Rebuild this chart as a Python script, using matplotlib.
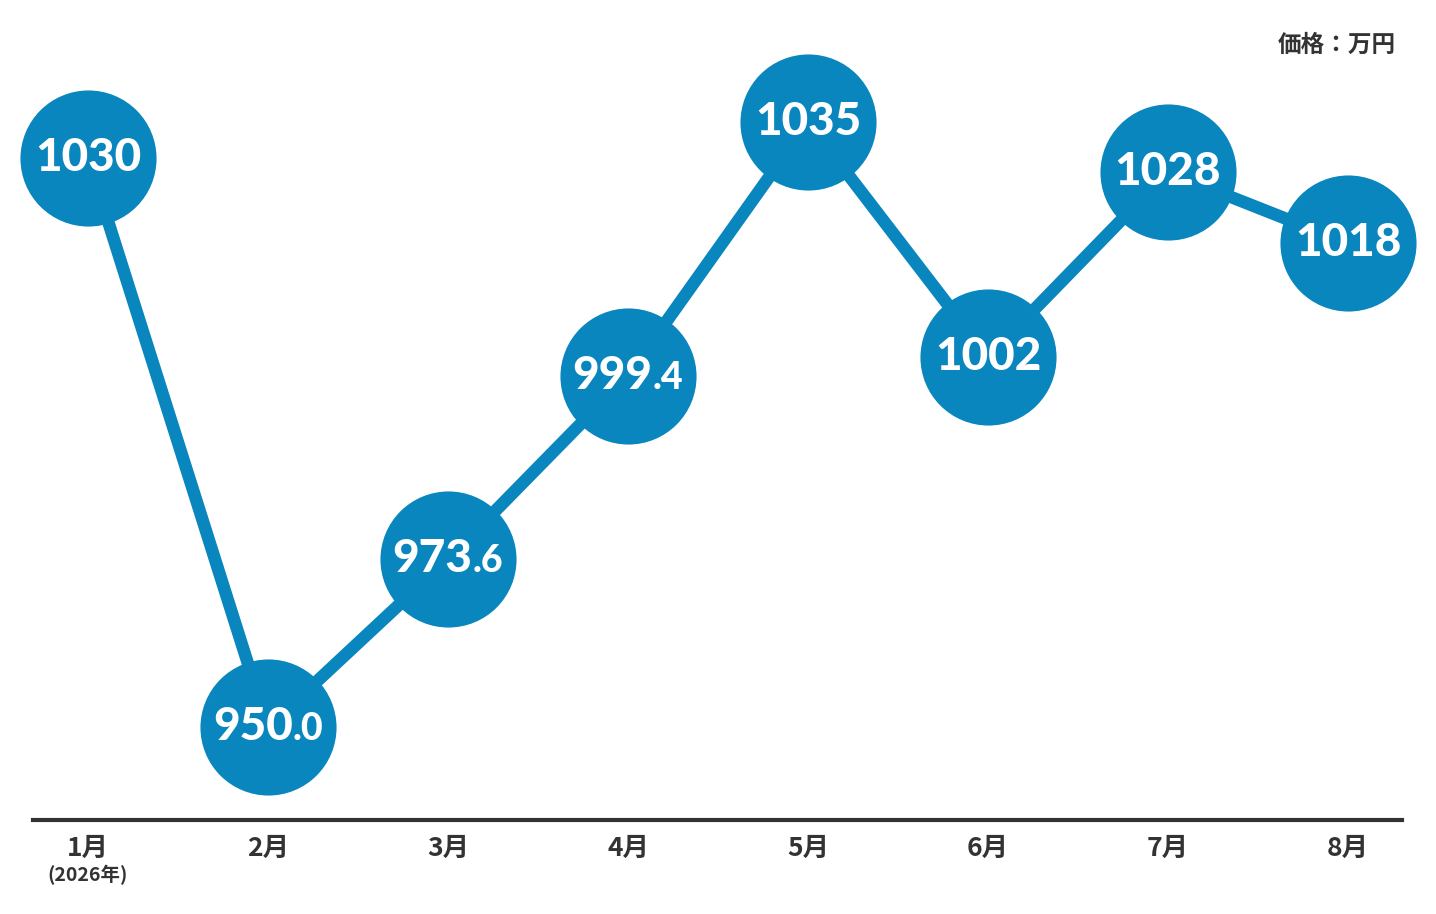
import matplotlib
matplotlib.use("Agg")
import matplotlib.pyplot as plt
import matplotlib.transforms as mtrans

months = ["1月", "2月", "3月", "4月", "5月", "6月", "7月", "8月"]
prices = [1030, 950.0, 973.6, 999.4, 1035, 1002, 1028, 1018]
price_labels = ["1030", "950.0", "973.6", "999.4", "1035", "1002", "1028", "1018"]
unit_label = "価格：万円"
year_note = "(2026年)"

blue = "#0A86BE"
dark = "#333333"
cjk = ["Noto Sans CJK JP", "DejaVu Sans"]

fig = plt.figure(figsize=(14.36, 9.14), dpi=100)
ax = fig.add_axes([33 / 1436, 94 / 914, 1369 / 1436, 820 / 914])
xs = list(range(len(months)))

ax.plot(xs, prices, color=blue, linewidth=9, solid_capstyle="round",
        zorder=2, clip_on=False)
ax.plot(xs, prices, linestyle="none", marker="o", markersize=98,
        markerfacecolor=blue, markeredgewidth=0, zorder=3, clip_on=False)

ax.set_xlim(-55 / 180, 7 + 54 / 180)
ax.set_ylim(950 - 93 / 7.114, 950 + 727 / 7.114)

for s in ["top", "right", "left"]:
    ax.spines[s].set_visible(False)
ax.spines["bottom"].set_color(dark)
ax.spines["bottom"].set_linewidth(3)
ax.set_yticks([])
ax.set_xticks(xs)
ax.set_xticklabels(months, family=cjk, fontsize=19, fontweight="bold",
                   color=dark)
ax.tick_params(axis="x", length=0, pad=11)

ax.text(0, -55 / 820, year_note, transform=ax.get_xaxis_transform(),
        ha="center", va="center", family=cjk, fontsize=14, fontweight="bold",
        color=dark)
fig.text(1396 / 1436, 1 - 45 / 914, unit_label, ha="right", va="center",
         family=cjk, fontsize=17, fontweight="bold", color=dark)

# value labels: decimal part drawn a bit smaller
fig.canvas.draw()
renderer = fig.canvas.get_renderer()
for x, y, lab in zip(xs, prices, price_labels):
    if "." in lab:
        main, dec = lab.split(".")
        t1 = ax.text(x, y, main, ha="left", va="baseline", color="white",
                     family="Lato", fontweight="black", fontsize=33, zorder=4)
        t2 = ax.text(x, y, "." + dec, ha="left", va="baseline", color="white",
                     family="Lato", fontweight="black", fontsize=27, zorder=4)
        w1 = t1.get_window_extent(renderer).width
        w2 = t2.get_window_extent(renderer).width
        total = w1 + w2
        off = mtrans.ScaledTranslation(-total / 2 / 100, -13 / 100,
                                       fig.dpi_scale_trans)
        t1.set_transform(ax.transData + off)
        off2 = mtrans.ScaledTranslation((-total / 2 + w1) / 100, -13 / 100,
                                        fig.dpi_scale_trans)
        t2.set_transform(ax.transData + off2)
    else:
        ax.text(x, y, lab, ha="center", va="center", color="white",
                family="Lato", fontweight="black", fontsize=33, zorder=4)

fig.savefig("out.png", dpi=100)
